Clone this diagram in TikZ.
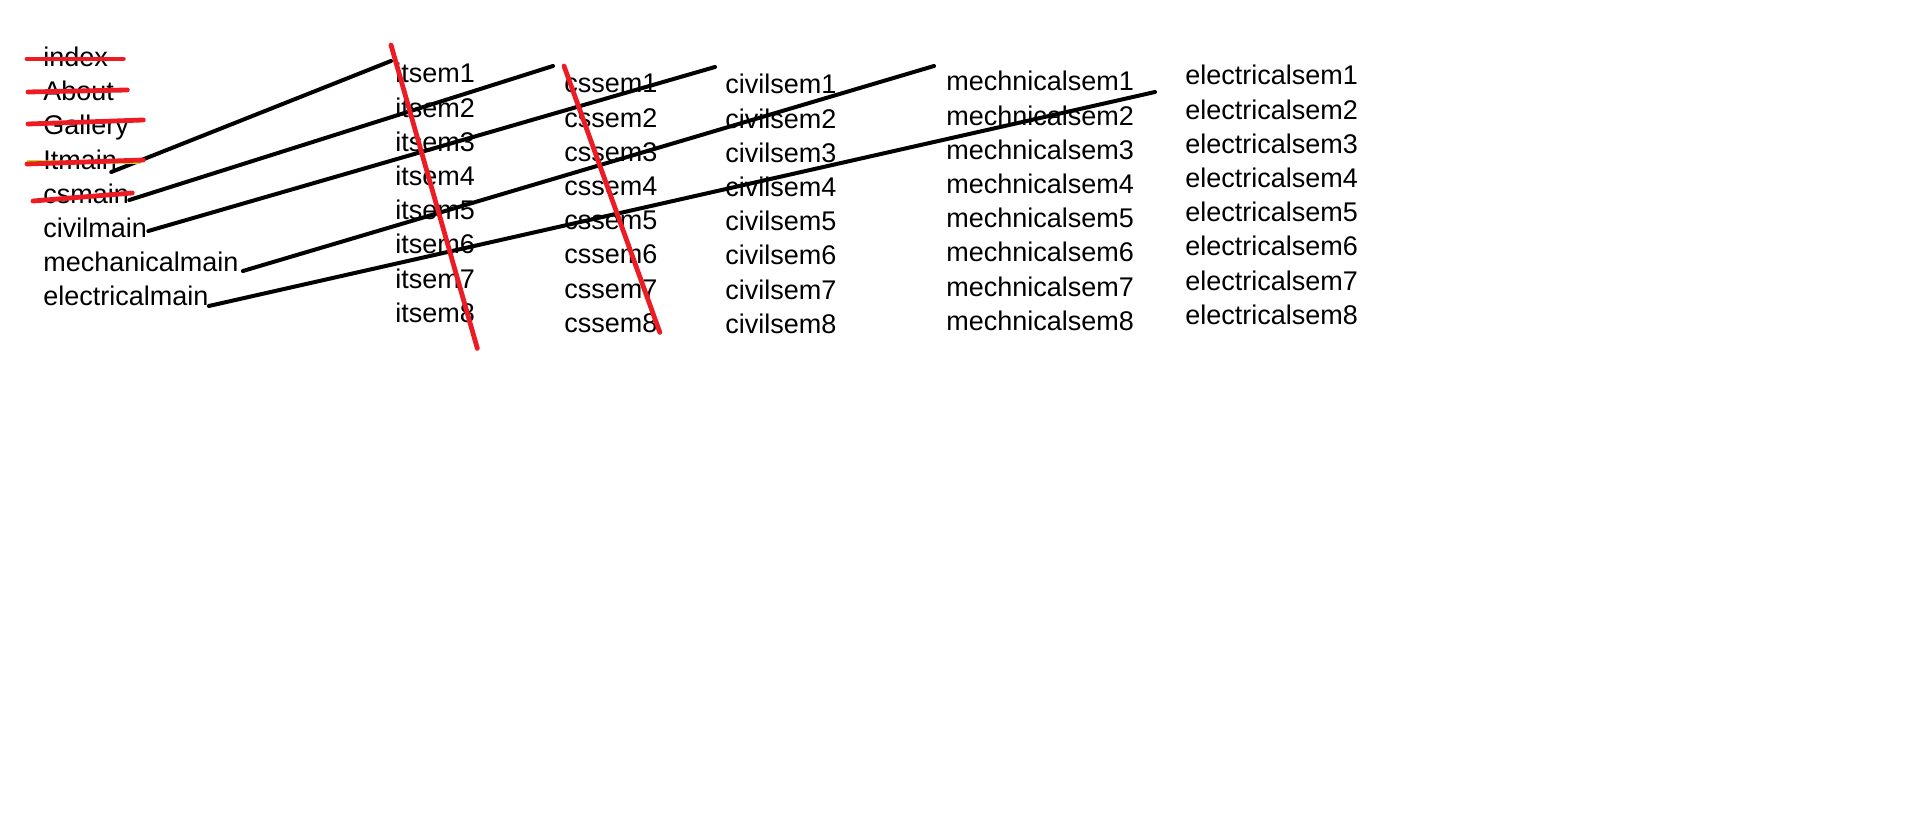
\documentclass[tikz,border=0pt]{standalone}
\usepackage{fontspec}
\setmainfont{Liberation Sans}
\definecolor{paintred}{RGB}{237,28,36}
\definecolor{paintlime}{RGB}{181,230,29}
\tikzset{
  item/.style={inner sep=0pt,anchor=base west,font=\fontsize{13.5pt}{16pt}\selectfont},
  link/.style={line width=2pt,line cap=round},
  cut/.style={paintred,line width=2.4pt,line cap=round}
}

\begin{document}
\begin{tikzpicture}[x=0.5pt,y=-0.5pt]
\useasboundingbox (0,0) rectangle (1914,822);

% menu on the left
\node[item] (index) at (43,67) {index};
\node[item] (about) at (43,101) {About};
\node[item] (gallery) at (43,135) {Gallery};
\node[item] (itmain) at (43,170) {Itmain};
\node[item] (csmain) at (43,204) {csmain};
\node[item] (civilmain) at (43,238) {civilmain};
\node[item] (mechmain) at (43,272) {mechanicalmain};
\node[item] (elecmain) at (43,306) {electricalmain};

% semester columns
\foreach \i in {1,...,8} {
  \node[item] (it\i) at (395,{83+34.2*(\i-1)}) {itsem\i};
  \node[item] (cs\i) at (564,{93+34.2*(\i-1)}) {cssem\i};
  \node[item] (civil\i) at (725,{94+34.2*(\i-1)}) {civilsem\i};
  \node[item] (mech\i) at (946,{91+34.2*(\i-1)}) {mechnicalsem\i};
  \node[item] (elec\i) at (1185,{85+34.2*(\i-1)}) {electricalsem\i};
}

% main -> first semester
\draw[link] ([shift={(-6,2)}]itmain.base east) -- ([shift={(-4,-22)}]it1.base west);
\draw[link] ([shift={(0,-4)}]csmain.base east) -- ([shift={(-11,-27)}]cs1.base west);
\draw[link] ([shift={(1,-7)}]civilmain.base east) -- ([shift={(-10,-27)}]civil1.base west);
\draw[link] ([shift={(4,-1)}]mechmain.base east) -- ([shift={(-12,-25)}]mech1.base west);
\draw[link] (elecmain.base east) -- ([shift={(-30,7)}]elec1.base west);

% crossed out
\draw[paintlime,line width=1pt] ([shift={(-16,-9)}]itmain.base west) -- ([shift={(23,-7)}]itmain.base east);
\draw[cut] ([shift={(-16,-8)}]index.base west) -- ([shift={(15,-8)}]index.base east);
\draw[cut] ([shift={(-15,-9)}]about.base west) -- ([shift={(13,-11)}]about.base east);
\draw[cut] ([shift={(-15,-11)}]gallery.base west) -- ([shift={(14,-15)}]gallery.base east);
\draw[cut] ([shift={(-16,-6)}]itmain.base west) -- ([shift={(26,-10)}]itmain.base east);
\draw[cut] ([shift={(-10,-3)}]csmain.base west) -- ([shift={(3,-11)}]csmain.base east);
\draw[cut] ([shift={(-4,-38)}]it1.base west) -- ([shift={(2,26)}]it8.base east);
\draw[cut] ([shift={(0,-27)}]cs1.base west) -- ([shift={(2,0)}]cs8.base east);
\end{tikzpicture}
\end{document}
